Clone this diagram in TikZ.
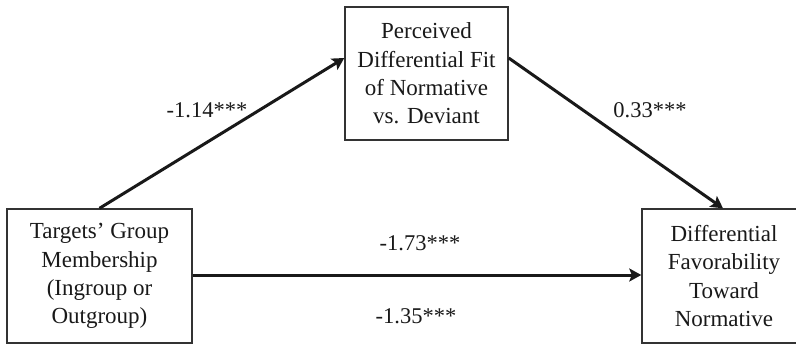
\documentclass[tikz,border=0pt]{standalone}
\usepackage{fontspec}
\setmainfont{Liberation Serif}
\usetikzlibrary{arrows.meta}
\begin{document}
\begin{tikzpicture}[x=1pt,y=1pt,
  box/.style={draw=black!80, line width=1.4pt, inner sep=0pt, align=center,
    font=\fontsize{23}{28.3}\selectfont, text=black!90},
  conn/.style={line width=3pt, draw=black!90,
    -{Stealth[length=12pt,width=13pt,inset=2.5pt]}},
  lbl/.style={font=\fontsize{22.5}{28.3}\selectfont, text=black!90}]
\useasboundingbox (0,0) rectangle (796,346);
\node[box, minimum width=163pt, minimum height=133pt] (med) at (426.5,272.5)
  {Perceived\\Differential Fit\\of Normative\\vs. Deviant};
\node[box, minimum width=185pt, minimum height=134pt] (iv) at (99.5,70)
  {Targets’ Group\\Membership\\(Ingroup or\\Outgroup)};
\node[box, minimum width=164pt, minimum height=134pt] (dv) at (724,70)
  {Differential\\Favorability\\Toward\\Normative};
\draw[conn] (iv.north) -- ([yshift=15.5pt]med.west);
\draw[conn] ([yshift=15.5pt]med.east) -- ([xshift=-1pt]dv.north);
\draw[conn] ([yshift=1pt]iv.east) -- ([yshift=1pt]dv.west);
\node[lbl] (a) at (207,236) {-1.14***};
\node[lbl] (b) at (650,236) {0.33***};
\node[lbl] (c) at (420,103) {-1.73***};
\node[lbl] (d) at (416,30) {-1.35***};
\end{tikzpicture}
\end{document}
